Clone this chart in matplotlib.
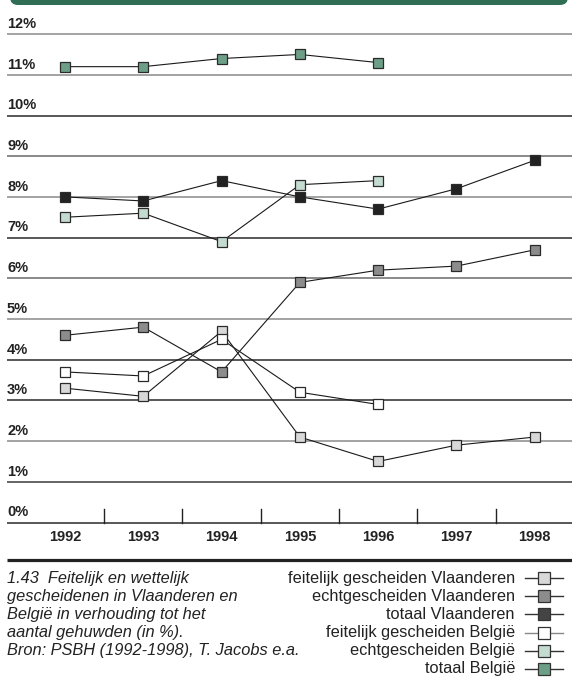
import matplotlib
matplotlib.use("Agg")
import matplotlib.pyplot as plt
from matplotlib.patches import FancyBboxPatch
from matplotlib import font_manager

# ---------------- data ----------------
years = ["1992", "1993", "1994", "1995", "1996", "1997", "1998"]
feitelijk_vlaanderen = [3.3, 3.1, 4.7, 2.1, 1.5, 1.9, 2.1]
echt_vlaanderen = [4.6, 4.8, 3.7, 5.9, 6.2, 6.3, 6.7]
totaal_vlaanderen = [8.0, 7.9, 8.4, 8.0, 7.7, 8.2, 8.9]
feitelijk_belgie = [3.7, 3.6, 4.5, 3.2, 2.9]
echt_belgie = [7.5, 7.6, 6.9, 8.3, 8.4]
totaal_belgie = [11.2, 11.2, 11.4, 11.5, 11.3]
ytick_values = list(range(0, 13))
ytick_labels = [f"{v}%" for v in ytick_values]
series_labels = ["feitelijk gescheiden Vlaanderen", "echtgescheiden Vlaanderen",
                 "totaal Vlaanderen", "feitelijk gescheiden België",
                 "echtgescheiden België", "totaal België"]
caption_lines = ["1.43  Feitelijk en wettelijk",
                 "gescheidenen in Vlaanderen en",
                 "België in verhouding tot het",
                 "aantal gehuwden (in %).",
                 "Bron: PSBH (1992-1998), T. Jacobs e.a."]

# ---------------- style ----------------
names = {f.name for f in font_manager.fontManager.ttflist}
cond = "Liberation Sans Narrow" if "Liberation Sans Narrow" in names else "Liberation Sans"
cond_size = 12.5 if cond == "Liberation Sans Narrow" else 10.5
reg = "Liberation Sans"
txt_size = 11.8

face_cols = ["#d8d8d8", "#8c8c8c", "#222222", "#ffffff", "#c4dbd0", "#6d9f88"]
legend_face = ["#d8d8d8", "#8c8c8c", "#444444", "#ffffff", "#c4dbd0", "#6d9f88"]
series = [feitelijk_vlaanderen, echt_vlaanderen, totaal_vlaanderen,
          feitelijk_belgie, echt_belgie, totaal_belgie]

W, H = 572, 686
fig = plt.figure(figsize=(W / 100, H / 100), dpi=100)

# pixel geometry of the plot
x0_px, dx_px = 65.0, 78.3      # centre of first category, category spacing
y0_px, dy_px = 522.5, 40.7     # 0% line, pixels per percent

ax = fig.add_axes([0, 0, 1, 1])
ax.set_xlim(-x0_px / dx_px, (W - x0_px) / dx_px)
ax.set_ylim((y0_px - H) / dy_px, y0_px / dy_px)
ax.axis("off")

grid_left = (7 - x0_px) / dx_px
grid_cols = {12: "#8a8a8a", 11: "#8a8a8a", 10: "#2a2a2a", 9: "#6a6a6a",
             8: "#8a8a8a", 7: "#2a2a2a", 6: "#6a6a6a", 5: "#8a8a8a",
             4: "#2a2a2a", 3: "#2a2a2a", 2: "#8a8a8a", 1: "#3a3a3a", 0: "#2a2a2a"}
xmax = ax.get_xlim()[1]
for v, lab in zip(ytick_values, ytick_labels):
    ax.plot([grid_left, xmax], [v, v], color=grid_cols[v], lw=1.1, zorder=1,
            solid_capstyle="butt")
    ax.text(grid_left, v + 0.25, lab, ha="left", va="center",
            fontfamily=cond, fontweight="bold", fontsize=cond_size, color="#222222")

# tick marks between categories
for i in range(len(years) - 1):
    ax.plot([i + 0.5, i + 0.5], [0, 0.33], color="#222222", lw=1.0, zorder=1)

for i, y in enumerate(years):
    ax.text(i, -0.36, y, ha="center", va="center", fontfamily=cond,
            fontweight="bold", fontsize=cond_size, color="#222222")

for vals, fc in zip(series, face_cols):
    xs = list(range(len(vals)))
    ax.plot(xs, vals, color="#1a1a1a", lw=0.8, zorder=3)
    ax.plot(xs, vals, ls="none", marker="s", markersize=7.2,
            markerfacecolor=fc, markeredgecolor="#2a2a2a", markeredgewidth=0.9,
            zorder=4)

# ---------------- overlay (pixel coords) ----------------
ov = fig.add_axes([0, 0, 1, 1])
ov.set_xlim(0, W)
ov.set_ylim(H, 0)
ov.axis("off")
ov.patch.set_alpha(0)

bar = FancyBboxPatch((10, -20), W - 14, 25, boxstyle="round,pad=0,rounding_size=8",
                     facecolor="#2f6e55", edgecolor="none")
ov.add_patch(bar)

ov.plot([7, W], [560, 560], color="#222222", lw=2.3, solid_capstyle="butt")

row_y = [578 + 18.2 * k for k in range(6)]
for k, line in enumerate(caption_lines):
    ov.text(7, row_y[k], line, ha="left", va="center", fontfamily=reg,
            fontstyle="italic", fontsize=txt_size, color="#222222")

for k, (lab, fc) in enumerate(zip(series_labels, legend_face)):
    ov.text(515, row_y[k], lab, ha="right", va="center", fontfamily=reg,
            fontsize=txt_size, color="#222222")
    lc = "#888888" if fc == "#ffffff" else "#333333"
    ov.plot([525, 563], [row_y[k], row_y[k]], color=lc, lw=1.0)
    ov.plot([544], [row_y[k]], ls="none", marker="s", markersize=8,
            markerfacecolor=fc, markeredgecolor="#333333", markeredgewidth=0.9)

fig.savefig("out.png", dpi=100)
